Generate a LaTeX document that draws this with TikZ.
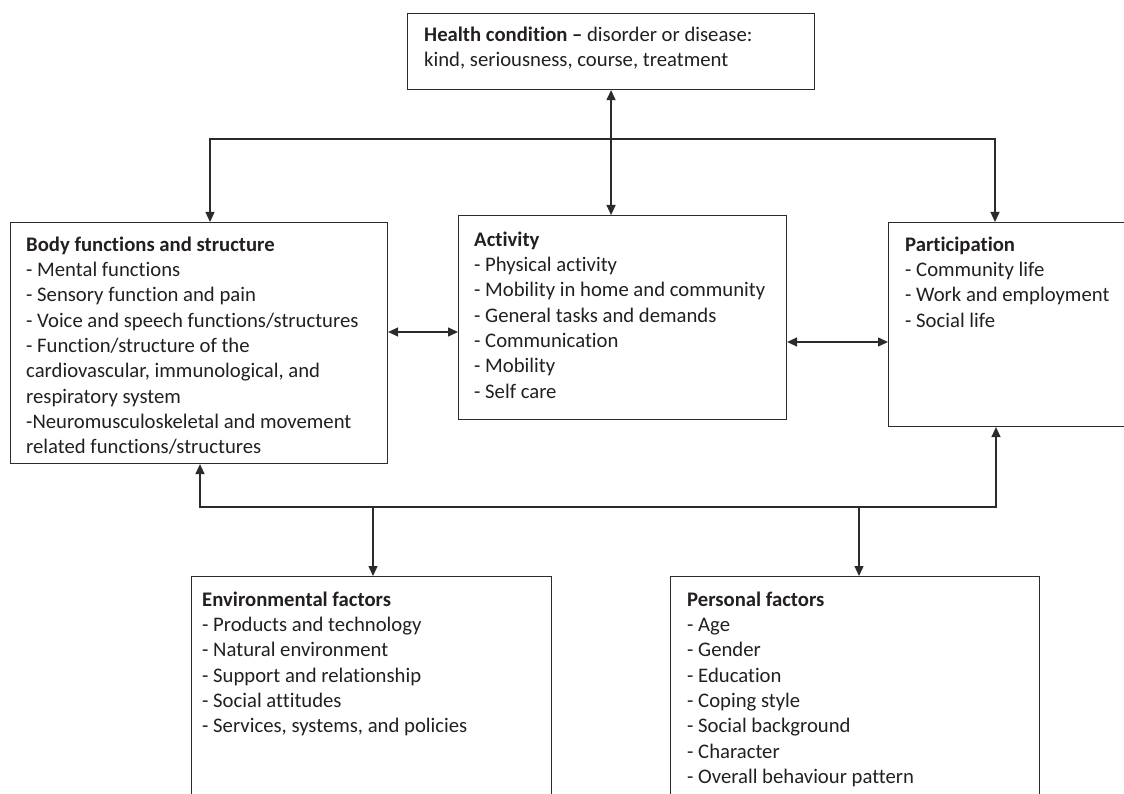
\documentclass[tikz,border=0pt]{standalone}
\usepackage{fontspec}
\setmainfont{Carlito}[Ligatures=NoCommon]
\usetikzlibrary{positioning,arrows.meta}
\definecolor{myLINE}{HTML}{2B2B2B}
\definecolor{myTEXT}{HTML}{231F20}

\begin{document}
\begin{tikzpicture}[x=1pt, y=1pt, >={Triangle[length=10pt,width=9pt]},
    frame/.style={draw=myLINE, line width=1.1pt, anchor=north west, inner sep=0pt},
    txt/.style={anchor=north west, align=left, inner sep=0pt, text=myTEXT, font=\fontsize{20.7}{25.3}\selectfont},
    link/.style={draw=myLINE, line width=1.3pt}]
    \path[use as bounding box, clip] (0,0) rectangle (1124,-794);

    % Boxes
    \node[frame, minimum width=407pt, minimum height=76pt] (health) at (407,-13) {};
    \node[frame, minimum width=377pt, minimum height=241pt] (body) at (10,-222) {};
    \node[frame, minimum width=328pt, minimum height=204pt] (activity) at (458,-215) {};
    \node[frame, minimum width=300pt, minimum height=204pt] (part) at (888,-222) {};
    \node[frame, minimum width=360pt, minimum height=260pt] (env) at (191,-576) {};
    \node[frame, minimum width=369pt, minimum height=260pt] (personal) at (670,-576) {};

    % Texts
    \node[txt, below right=13.5pt and 17pt of health.north west] (healthtxt)
        {\textbf{Health condition –} disorder or disease:\\kind, seriousness, course, treatment};
    \node[txt, below right=14.5pt and 16pt of body.north west] (bodytxt)
        {\textbf{Body functions and structure}\\- Mental functions\\- Sensory function and pain\\- Voice and speech functions/structures\\- Function/structure of the\\cardiovascular, immunological, and\\respiratory system\\-Neuromusculoskeletal and movement\\related functions/structures};
    \node[txt, below right=16.5pt and 16pt of activity.north west] (activitytxt)
        {\textbf{Activity}\\- Physical activity\\- Mobility in home and community\\- General tasks and demands\\- Communication\\- Mobility\\- Self care};
    \node[txt, below right=14.5pt and 17pt of part.north west] (parttxt)
        {\textbf{Participation}\\- Community life\\- Work and employment\\- Social life};
    \node[txt, below right=15.5pt and 11pt of env.north west] (envtxt)
        {\textbf{Environmental factors}\\- Products and technology\\- Natural environment\\- Support and relationship\\- Social attitudes\\- Services, systems, and policies};
    \node[txt, below right=15.5pt and 17pt of personal.north west] (personaltxt)
        {\textbf{Personal factors}\\- Age\\- Gender\\- Education\\- Coping style\\- Social background\\- Character\\- Overall behaviour pattern};

    % Junctions
    \coordinate (topL) at (210,-139);
    \coordinate (topR) at (995,-139);
    \coordinate (botL) at (200,-507);
    \coordinate (botR) at (996,-507);
    \coordinate (envdrop) at (373,-507);
    \coordinate (perdrop) at (859,-507);
    \coordinate (bodyact) at (0,-332);
    \coordinate (actpart) at (0,-342);

    % Arrows
    \draw[link, <->] (health.south) -- (health.south |- activity.north);
    \draw[link, <->] (topL |- body.north) -- (topL) -- (topR) -- (topR |- part.north);
    \draw[link, <->] (body.east |- bodyact) -- (activity.west |- bodyact);
    \draw[link, <->] (activity.east |- actpart) -- (part.west |- actpart);
    \draw[link, <->] (botL |- body.south) -- (botL) -- (botR) -- (botR |- part.south);
    \draw[link, ->] (envdrop) -- (envdrop |- env.north);
    \draw[link, ->] (perdrop) -- (perdrop |- personal.north);
\end{tikzpicture}
\end{document}
